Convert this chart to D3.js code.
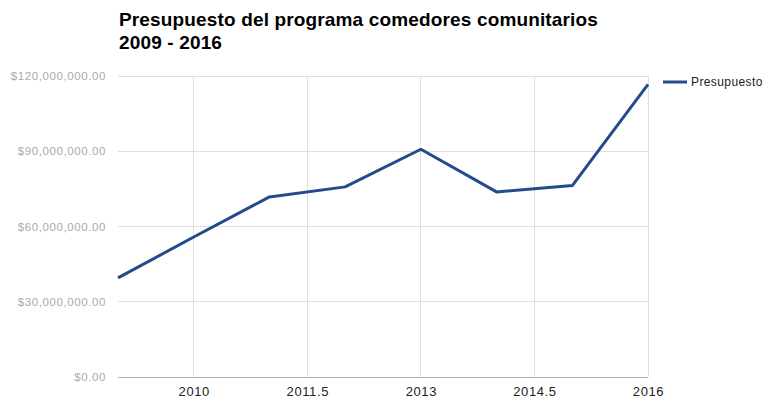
<!DOCTYPE html>
<html>
<head>
<meta charset="utf-8">
<script src="https://cdn.jsdelivr.net/npm/d3@7"></script>
<style>
  body { margin: 0; background: #fff; }
  svg { display: block; font-family: "Liberation Sans", Arial, sans-serif; }
</style>
</head>
<body>
<script>
// data
var years = [2009, 2010, 2011, 2012, 2013, 2014, 2015, 2016];
var presupuesto = [39500000, 55800000, 71800000, 75800000, 90800000, 73800000, 76300000, 116700000];
var xTicks = [2010, 2011.5, 2013, 2014.5, 2016];
var yTicks = [0, 30000000, 60000000, 90000000, 120000000];
var titleLines = ["Presupuesto del programa comedores comunitarios", "2009 - 2016"];
var seriesName = "Presupuesto";

var margin = {top: 76, left: 118, bottom: 23, right: 117};
var width = 765 - margin.left - margin.right;
var height = 400 - margin.top - margin.bottom;

var svg = d3.select("body").append("svg")
            .attr("width", 765)
            .attr("height", 400);

var g = svg.append("g")
           .attr("transform", "translate(" + margin.left + "," + margin.top + ")");

var x = d3.scaleLinear()
  .domain([2009, 2016])
  .range([0, width]);

var y = d3.scaleLinear()
  .domain([0, 120000000])
  .range([height, 0]);

// horizontal gridlines
g.append("g").selectAll("line")
  .data(yTicks)
  .enter().append("line")
  .attr("x1", 0).attr("x2", width)
  .attr("y1", function(d) { return y(d); })
  .attr("y2", function(d) { return y(d); })
  .attr("stroke", function(d) { return d === 0 ? "#b5b5b5" : "#e0e0e0"; })
  .attr("shape-rendering", "crispEdges");

// vertical gridlines
g.append("g").selectAll("line")
  .data(xTicks)
  .enter().append("line")
  .attr("x1", function(d) { return x(d); })
  .attr("x2", function(d) { return x(d); })
  .attr("y1", 0).attr("y2", height)
  .attr("stroke", "#e0e0e0")
  .attr("shape-rendering", "crispEdges");

// y axis labels
var fmt = d3.format("$,.2f");
var yAxis = g.append("g")
  .call(d3.axisLeft(y).tickValues(yTicks).tickSize(0).tickPadding(12).tickFormat(fmt));
yAxis.select(".domain").remove();
yAxis.selectAll("text")
  .attr("fill", "#aaa")
  .style("font-size", "11.5px")
  .style("letter-spacing", "0.6px");

// x axis labels
var xAxis = g.append("g")
  .attr("transform", "translate(0," + height + ")")
  .call(d3.axisBottom(x).tickValues(xTicks).tickSize(0).tickPadding(10).tickFormat(function(d) { return d; }));
xAxis.select(".domain").remove();
xAxis.selectAll("text")
  .attr("fill", "#222")
  .style("font-size", "13px")
  .style("letter-spacing", "0.6px");

// the line
var line = d3.line()
  .x(function(d, i) { return x(years[i]); })
  .y(function(d) { return y(d); });

g.append("path")
  .datum(presupuesto)
  .attr("d", line)
  .attr("fill", "none")
  .attr("stroke", "#224b8c")
  .attr("stroke-width", 3)
  .attr("stroke-linejoin", "round");

// title
svg.append("g").selectAll("text")
  .data(titleLines)
  .enter().append("text")
  .attr("x", 119)
  .attr("y", function(d, i) { return 26 + i * 23; })
  .attr("font-size", "19px")
  .attr("font-weight", "bold")
  .attr("fill", "#000")
  .style("letter-spacing", "0.15px")
  .text(function(d) { return d; });

// legend
var legend = svg.append("g").attr("transform", "translate(663,82)");
legend.append("line")
  .attr("x1", 0).attr("x2", 24)
  .attr("stroke", "#224b8c")
  .attr("stroke-width", 3);
legend.append("text")
  .attr("x", 28)
  .attr("y", 4)
  .attr("font-size", "12px")
  .attr("fill", "#222")
  .style("letter-spacing", "0.4px")
  .text(seriesName);
</script>
</body>
</html>
